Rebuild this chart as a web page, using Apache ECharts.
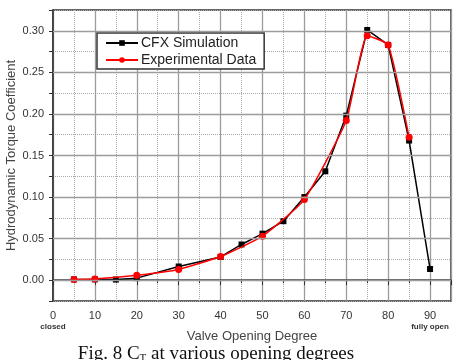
<!DOCTYPE html>
<html>
<head>
<meta charset="utf-8">
<script src="https://cdn.jsdelivr.net/npm/echarts@6/dist/echarts.min.js"></script>
<style>
  html, body { margin: 0; padding: 0; background: #fff; }
  #chart { width: 457px; height: 360px; }
</style>
</head>
<body>
<div id="chart"></div>
<script>
// Data
const cfxDegrees = [5, 10, 15, 20, 30, 40, 45, 50, 55, 60, 65, 70, 75, 80, 85, 90]
const cfxValues = [0.001, 0.001, 0.0008, 0.0025, 0.0165, 0.028, 0.043, 0.056, 0.071, 0.1, 0.131, 0.198, 0.301, 0.283, 0.168, 0.0135]
const expDegrees = [5, 10, 20, 30, 40, 50, 60, 70, 75, 80, 85]
const expValues = [0.001, 0.0016, 0.006, 0.013, 0.0285, 0.053, 0.097, 0.192, 0.294, 0.283, 0.172]
const yMajorTicks = [0, 0.05, 0.1, 0.15, 0.2, 0.25, 0.3]

const chart = echarts.init(document.getElementById('chart'))

const zip = (xs, ys) => xs.map((x, i) => [x, ys[i]])

const option = {
  animation: false,
  backgroundColor: '#fff',
  textStyle: { fontFamily: 'Liberation Sans, Arial, sans-serif' },
  grid: {
    left: 53, top: 10, right: 6, bottom: 59,
    containLabel: false,
    outerBoundsMode: 'none',
    show: true, borderColor: '#333', borderWidth: 1.5
  },
  legend: {
    orient: 'vertical',
    left: 97, top: 33,
    padding: [3, 8, 2, 8],
    itemGap: 3,
    itemWidth: 32,
    itemHeight: 7,
    borderColor: '#333',
    borderWidth: 1.5,
    backgroundColor: '#fff',
    textStyle: { fontSize: 14, color: '#222', padding: [0, 0, 0, -2] },
    data: ['CFX Simulation', 'Experimental Data']
  },
  xAxis: {
    type: 'value',
    min: 0, max: 95, interval: 10,
    name: 'Valve Opening Degree',
    nameLocation: 'middle',
    nameGap: 29,
    nameMoveOverlap: false,
    nameTextStyle: { fontSize: 13, color: '#444' },
    axisLine: { lineStyle: { color: '#333', width: 1.5 } },
    axisTick: { length: 5, lineStyle: { color: '#333' } },
    minorTick: { show: true, splitNumber: 2, length: 3, lineStyle: { color: '#333' } },
    splitLine: { lineStyle: { color: '#9c9c9c', width: 1.3 } },
    minorSplitLine: { show: true, lineStyle: { color: '#aaa', type: 'dotted', width: 1 } },
    axisLabel: {
      fontSize: 11, color: '#333', margin: 9, lineHeight: 12,
      formatter: v => {
        if (v > 90) return ''
        if (v === 0) return '0\n{s|closed}'
        if (v === 90) return '90\n{s|fully open}'
        return String(v)
      },
      rich: { s: { fontSize: 8, fontWeight: 'bold', color: '#333', lineHeight: 10 } }
    }
  },
  yAxis: {
    type: 'value',
    min: -0.025, max: 0.325, interval: 0.025,
    name: 'Hydrodynamic Torque Coefficient',
    nameLocation: 'middle',
    nameGap: 35,
    nameMoveOverlap: false,
    nameTextStyle: { fontSize: 13, color: '#444' },
    axisLine: { show: true, lineStyle: { color: '#333', width: 1.5 } },
    axisTick: { show: true, length: 4, lineStyle: { color: '#333' } },
    splitLine: { lineStyle: { color: '#aaa', type: 'dotted', width: 1 } },
    axisLabel: {
      fontSize: 11, color: '#333', margin: 9,
      formatter: v => {
        const r = Math.round(v * 1000)
        if (r < 0 || r > 300 || r % 50 !== 0) return ''
        return (r / 1000).toFixed(2)
      }
    }
  },
  series: [
    {
      name: 'grid-major',
      type: 'line',
      data: [],
      z: 1,
      silent: true,
      markLine: {
        silent: true,
        symbol: 'none',
        label: { show: false },
        lineStyle: { color: '#9c9c9c', type: 'solid', width: 1.3 },
        data: yMajorTicks.map(v => ({ yAxis: v }))
      }
    },
    {
      name: 'CFX Simulation',
      type: 'line',
      data: zip(cfxDegrees, cfxValues),
      symbol: 'rect',
      symbolSize: 6,
      z: 3,
      lineStyle: { color: '#000', width: 1.5 },
      itemStyle: { color: '#000' }
    },
    {
      name: 'Experimental Data',
      type: 'line',
      data: zip(expDegrees, expValues),
      symbol: 'circle',
      symbolSize: 7,
      smooth: 0.15,
      z: 4,
      lineStyle: { color: '#ff0000', width: 1.5 },
      itemStyle: { color: '#ff0000' }
    }
  ],
  graphic: [
    {
      type: 'text',
      x: 216, y: 354,
      style: {
        text: '{a|Fig. 8 C}{b|T}{a| at various opening degrees}',
        align: 'center',
        verticalAlign: 'middle',
        fill: '#111',
        rich: {
          a: { fontFamily: 'Liberation Serif, Times New Roman, serif', fontSize: 19, fill: '#111' },
          b: { fontFamily: 'Liberation Serif, Times New Roman, serif', fontSize: 11, fill: '#111', verticalAlign: 'bottom', padding: [7, 0, 0, 0] }
        }
      }
    }
  ]
}

chart.setOption(option)
</script>
</body>
</html>
